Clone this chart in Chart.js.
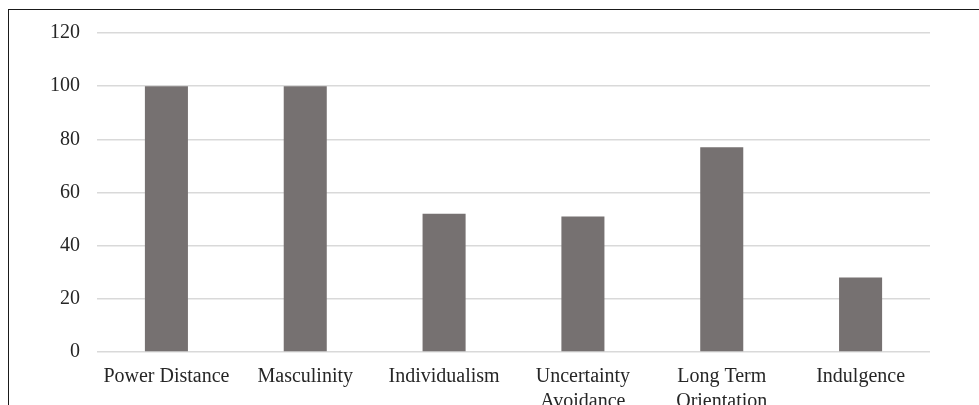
<!DOCTYPE html>
<html>
<head>
<meta charset="utf-8">
<script src="https://cdn.jsdelivr.net/npm/chart.js@4/dist/chart.umd.min.js"></script>
<style>
  html, body { margin: 0; padding: 0; background: #ffffff; overflow: hidden; }
  #wrap { position: relative; width: 979px; height: 405px; }
  #frame { position: absolute; left: 8px; top: 9px; width: 1000px; height: 500px;
           border: 1.5px solid #1a1a1a; box-sizing: border-box; pointer-events: none; }
  canvas { position: absolute; left: 0; top: 0; }
</style>
</head>
<body>
<div id="wrap">
  <canvas id="c" width="979" height="405"></canvas>
  <div id="frame"></div>
</div>
<script>
// Hofstede cultural dimension scores
const categories = [
  ["Power Distance"],
  ["Masculinity"],
  ["Individualism"],
  ["Uncertainty", "Avoidance"],
  ["Long Term", "Orientation"],
  ["Indulgence"]
];
const scores = [100, 100, 52, 51, 77, 28];
const yTicks = [0, 20, 40, 60, 80, 100, 120];

const fontFamily = "'Liberation Serif', 'Times New Roman', serif";

new Chart(document.getElementById('c'), {
  type: 'bar',
  data: {
    labels: categories,
    datasets: [{
      data: scores,
      backgroundColor: '#767171',
      borderWidth: 0,
      categoryPercentage: 1.0,
      barPercentage: 0.31
    }]
  },
  options: {
    responsive: false,
    animation: false,
    events: [],
    layout: { padding: { left: 0, right: 49, top: 33, bottom: 0 } },
    plugins: { legend: { display: false }, tooltip: { enabled: false } },
    scales: {
      x: {
        grid: { display: false, drawTicks: false },
        border: { display: false },
        ticks: {
          color: '#262626',
          font: { family: fontFamily, size: 20, lineHeight: 1.25 },
          padding: 12,
          maxRotation: 0,
          autoSkip: false
        },
        afterFit(scale) { scale.height = 53; }
      },
      y: {
        min: 0,
        max: 120,
        afterBuildTicks(scale) { scale.ticks = yTicks.map(v => ({ value: v })); },
        grid: { color: '#d9d9d9', lineWidth: 1.5, drawTicks: false },
        border: { display: false },
        ticks: {
          color: '#262626',
          font: { family: fontFamily, size: 20 },
          padding: 17
        },
        afterFit(scale) { scale.width = 97; }
      }
    }
  }
});
</script>
</body>
</html>
